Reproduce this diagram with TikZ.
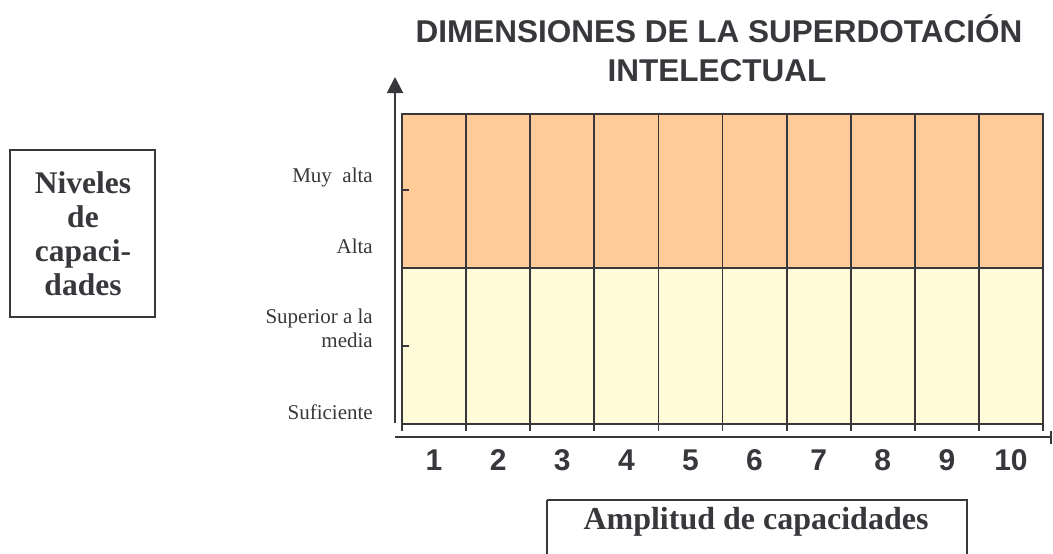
\documentclass[tikz,border=0pt]{standalone}
\usepackage{fontspec}
\setmainfont{Liberation Serif}
\newfontfamily\arialfont{Liberation Sans}
\usetikzlibrary{arrows.meta,positioning}
\definecolor{peach}{RGB}{255,204,153}
\definecolor{cream}{RGB}{255,250,215}
\definecolor{ink}{RGB}{55,55,60}

\begin{document}
\begin{tikzpicture}[x=1pt,y=-1pt,
    gridline/.style={ink, line width=1.8pt},
    axisline/.style={ink, line width=2pt},
    levellabel/.style={anchor=base east, inner sep=0pt, text=ink, font=\fontsize{21}{24}\selectfont},
    numlabel/.style={anchor=base, text=ink, font=\arialfont\bfseries\fontsize{30}{36}\selectfont},
    titlelabel/.style={anchor=base, text=ink, font=\arialfont\bfseries\fontsize{31.5}{38}\selectfont}]
    \useasboundingbox (0,0) rectangle (1053,554);

    % Title
    \node[titlelabel] (title1) at (719,42) {DIMENSIONES DE LA SUPERDOTACIÓN};
    \node[titlelabel] (title2) at (717,81) {INTELECTUAL};

    % Bands of the chart
    \fill[peach] (402,114) rectangle (1043,268);
    \fill[cream] (402,268) rectangle (1043,424);

    % Columns
    \foreach \i in {1,...,9} {
        \draw[gridline] (402+64.1*\i,114) -- (402+64.1*\i,424);
    }
    \foreach \i in {0,...,10} {
        \draw[gridline] (402+64.1*\i,424) -- (402+64.1*\i,431);
    }
    \draw[gridline] (402,268) -- (1043,268);
    \draw[gridline] (402,114) rectangle (1043,424);

    % Ticks on the left edge
    \foreach \y in {190,346} {
        \draw[gridline] (402,\y) -- (409,\y);
    }

    % Axes
    \draw[axisline, -{Triangle[length=16pt,width=16pt]}] (395,423) -- (395,77);
    \draw[axisline, -{Bar[width=13pt,line width=2.5pt]}] (395,437) -- (1052,437);

    % Column numbers
    \foreach \n in {1,...,10} {
        \node[numlabel] (num\n) at (402+64.1*\n-32.05,470) {\n};
    }

    % Levels
    \node[levellabel] (muyalta) at (373,182) {Muy\ \ alta};
    \node[levellabel] (alta) at (373,253) {Alta};
    \node[levellabel] (superior) at (373,323) {Superior a la};
    \node[levellabel] (media) at (373,347) {media};
    \node[levellabel] (suficiente) at (373,419) {Suficiente};

    % Left box
    \draw[ink, line width=2pt] (10,150) rectangle (155,317);
    \node[anchor=north, inner sep=0pt, align=center, text=ink,
        font=\bfseries\fontsize{31.5}{34}\selectfont] (niveles) at (83,171)
        {Niveles\\de\\capaci-\\dades};

    % Bottom box
    \draw[ink, line width=2pt] (547,500) -- (547,556);
    \draw[ink, line width=2pt] (547,500) -- (967,500) -- (967,556);
    \node[anchor=base, text=ink, font=\bfseries\fontsize{32}{36}\selectfont] (amplitud)
        at (756,529) {Amplitud de capacidades};
\end{tikzpicture}
\end{document}
